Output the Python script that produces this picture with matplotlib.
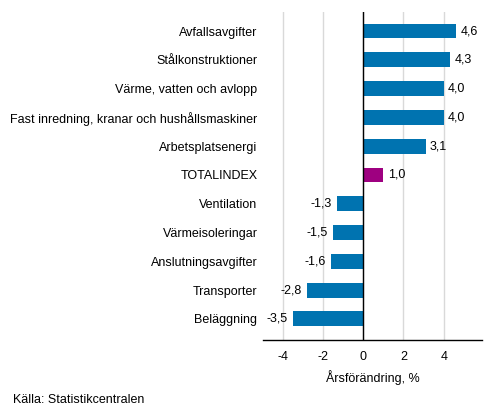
import numpy as np
import matplotlib.pyplot as plt

plt.rcParams['font.family'] = ['Liberation Sans', 'DejaVu Sans']

# Data
kategorier = ["Avfallsavgifter", "Stålkonstruktioner", "Värme, vatten och avlopp",
              "Fast inredning, kranar och hushållsmaskiner", "Arbetsplatsenergi",
              "TOTALINDEX", "Ventilation", "Värmeisoleringar",
              "Anslutningsavgifter", "Transporter", "Beläggning"]
varden = [4.6, 4.3, 4.0, 4.0, 3.1, 1.0, -1.3, -1.5, -1.6, -2.8, -3.5]
xticks = [-4, -2, 0, 2, 4]

blue = '#0073b0'
purple = '#9e0080'
farger = [purple if k == "TOTALINDEX" else blue for k in kategorier]

fig = plt.figure(figsize=(4.93, 4.16), dpi=100)
ax = fig.add_axes([263 / 493, 1 - 340 / 416, (482 - 263) / 493, (340 - 12) / 416])

y = np.arange(len(kategorier))
ax.barh(y, varden, height=0.52, color=farger, zorder=3)
ax.set_ylim(len(kategorier) - 1 + 0.73, -0.66)
ax.set_xlim(-4.97, 5.9)

# värden vid staplarna
for yi, v in zip(y, varden):
    txt = f"{v:.1f}".replace('.', ',')
    if v >= 0:
        ax.text(v + 0.22, yi, txt, va='center', ha='left', fontsize=9)
    else:
        ax.text(v - 0.25, yi, txt, va='center', ha='right', fontsize=9)

ax.set_yticks(y)
ax.set_yticklabels(kategorier, fontsize=9)
ax.set_xticks(xticks)
ax.set_xticklabels([str(t) for t in xticks], fontsize=9)
ax.tick_params(axis='y', length=0, pad=4)
ax.tick_params(axis='x', length=0, pad=8)

ax.grid(axis='x', color='#d9d9d9', linewidth=1, zorder=0)
ax.axvline(0, color='black', linewidth=1, zorder=4)
for s in ['top', 'right', 'left']:
    ax.spines[s].set_visible(False)
ax.spines['bottom'].set_color('black')
ax.spines['bottom'].set_linewidth(1)

ax.set_xlabel("Årsförändring, %", fontsize=9, labelpad=5)
fig.text(13 / 493, 1 - 400 / 416, "Källa: Statistikcentralen", fontsize=9, va='center')

fig.savefig("out.png", dpi=100)
